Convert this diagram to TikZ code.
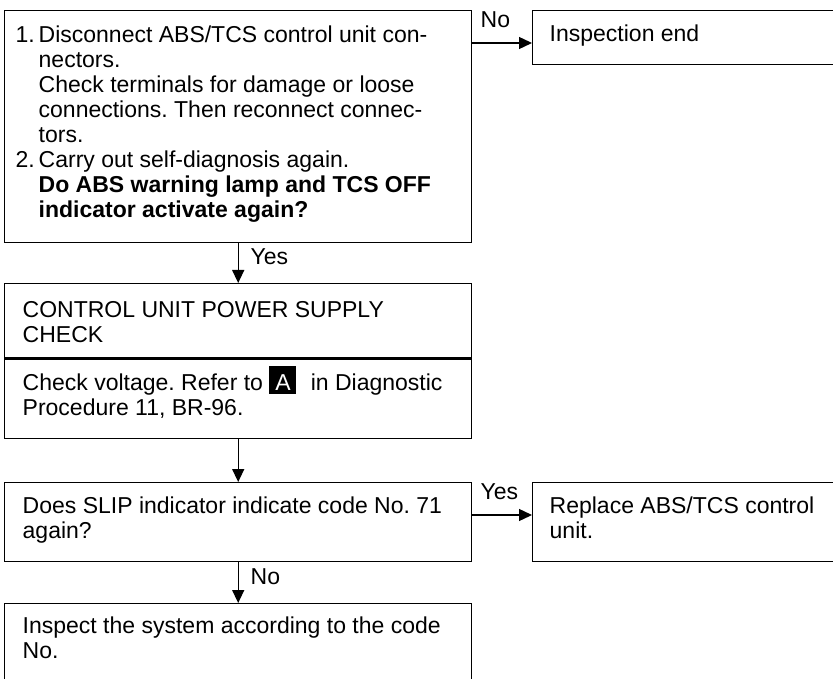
\documentclass[tikz,border=0pt]{standalone}
\usepackage{fontspec}
\setmainfont{Liberation Sans}
\usetikzlibrary{arrows.meta, positioning}
\newcommand{\numlbl}[1]{\makebox[23pt][l]{#1}}
\newcommand{\numgap}{\hspace*{23pt}}
\newcommand{\refmark}[1]{\raisebox{-4pt}{\fboxsep=0pt\colorbox{black}{\makebox[27pt]{\rule{0pt}{28pt}\raisebox{4pt}{\textcolor{white}{#1}}}}}}

\begin{document}
\begin{tikzpicture}[
  x=1pt, y=-1pt,
  font=\fontsize{23}{25}\selectfont\frenchspacing,
  line width=1.4pt,
  box/.style={draw, rectangle, inner sep=0pt, anchor=north west, minimum width=467pt},
  sidebox/.style={draw, rectangle, inner sep=0pt, anchor=north west, minimum width=320pt},
  txt/.style={inner sep=0pt, align=left, anchor=base west},
  lbl/.style={inner sep=0pt, anchor=base west},
  arrow/.style={-{Triangle[length=13pt, width=12pt]}}
]
\useasboundingbox (0,0) rectangle (833,679);
\clip (0,0) rectangle (833,679);

\node[box, minimum height=232pt] (check) at (4,10) {};
\node[txt] (checktxt) at (15,218) {\numlbl{1.}Disconnect ABS/TCS control unit con-\\
\numgap nectors.\\
\numgap Check terminals for damage or loose\\
\numgap connections. Then reconnect connec-\\
\numgap tors.\\
\numlbl{2.}Carry out self-diagnosis again.\\
\numgap\textbf{Do ABS warning lamp and TCS OFF}\\
\numgap\textbf{indicator activate again?}};

\node[sidebox, minimum height=54pt] (inspend) at (532,10) {};
\node[txt] (inspendtxt) at (549,42) {Inspection end};

\node[box, minimum height=155pt] (power) at (4,283) {};
\node[txt] (powertitle) at (22,342) {CONTROL UNIT POWER SUPPLY\\CHECK};
\node[txt] (powertxt) at (22,415) {Check voltage. Refer to \refmark{A}\hspace{8pt} in Diagnostic\\Procedure 11, BR-96.};
\draw[line width=3pt] (power.west |- 0,358) -- (power.east |- 0,358);

\node[box, minimum height=79pt] (slip) at (4,482) {};
\node[txt] (sliptxt) at (22,538) {Does SLIP indicator indicate code No. 71\\again?};

\node[sidebox, minimum height=79pt] (replace) at (532,482) {};
\node[txt] (replacetxt) at (549,538) {Replace ABS/TCS control\\unit.};

\node[box, minimum height=120pt] (inspect) at (4,603) {};
\node[txt] (inspecttxt) at (22,658) {Inspect the system according to the code\\No.};

\coordinate (noy) at (0,43);
\coordinate (yesy) at (0,515);
\draw[arrow] (check.east |- noy) -- (inspend.west |- noy);
\draw[arrow] (check.south) -- (power.north);
\draw[arrow] (power.south) -- (slip.north);
\draw[arrow] (slip.east |- yesy) -- (replace.west |- yesy);
\draw[arrow] (slip.south) -- (inspect.north);

\node[lbl] at (480,28) {No};
\node[lbl] at (250,265) {Yes};
\node[lbl] at (480,499) {Yes};
\node[lbl] at (250,584) {No};
\end{tikzpicture}
\end{document}
